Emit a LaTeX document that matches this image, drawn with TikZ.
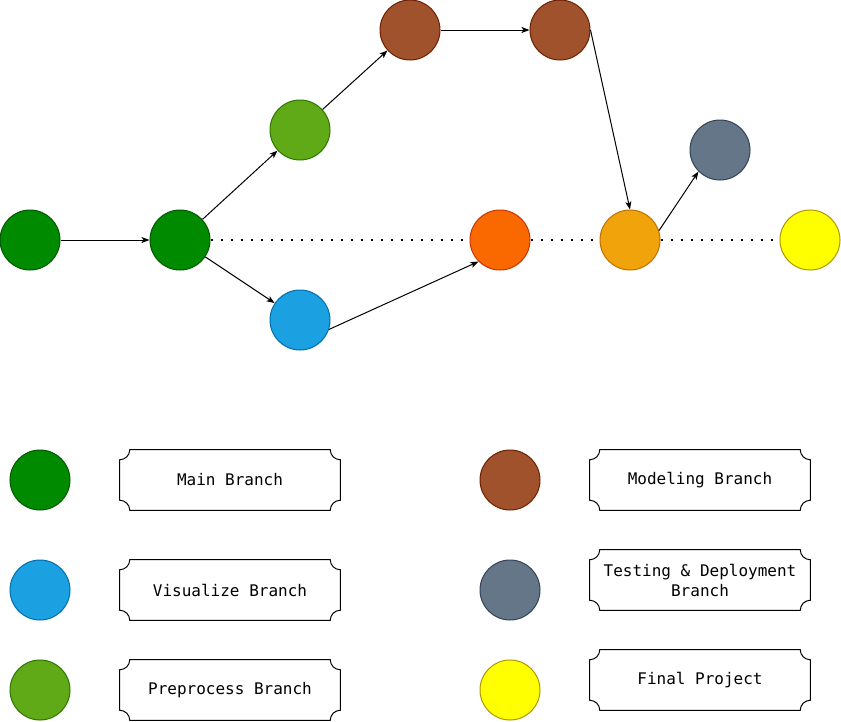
\documentclass[tikz,border=0pt]{standalone}
\usepackage{fontspec}
\setmonofont{DejaVu Sans Mono}
\usetikzlibrary{arrows.meta}
\definecolor{mainFill}{HTML}{008A00}\definecolor{mainLine}{HTML}{005700}
\definecolor{prepFill}{HTML}{60A917}\definecolor{prepLine}{HTML}{2D7600}
\definecolor{visFill}{HTML}{1BA1E2}\definecolor{visLine}{HTML}{006EAF}
\definecolor{modelFill}{HTML}{A0522D}\definecolor{modelLine}{HTML}{6D1F00}
\definecolor{mergeFill}{HTML}{FA6800}\definecolor{mergeLine}{HTML}{C73500}
\definecolor{testFill}{HTML}{F0A30A}\definecolor{testLine}{HTML}{BD7000}
\definecolor{deployFill}{HTML}{647687}\definecolor{deployLine}{HTML}{314354}
\definecolor{finalFill}{HTML}{FFFF00}\definecolor{finalLine}{HTML}{B09500}
\tikzset{
  commit/.style = {circle, inner sep=0pt, minimum size=45pt, line width=0.75pt},
  MainNode/.style = {commit, fill=mainFill, draw=mainLine},
  PrepNode/.style = {commit, fill=prepFill, draw=prepLine},
  VisNode/.style = {commit, fill=visFill, draw=visLine},
  ModelNode/.style = {commit, fill=modelFill, draw=modelLine},
  MergeNode/.style = {commit, fill=mergeFill, draw=mergeLine},
  TestNode/.style = {commit, fill=testFill, draw=testLine},
  DeployNode/.style = {commit, fill=deployFill, draw=deployLine},
  FinalNode/.style = {commit, fill=finalFill, draw=finalLine},
  branchlabel/.style = {align=center, inner sep=0pt, minimum width=165pt, minimum height=45pt,
    font=\ttfamily\fontsize{12}{15}\selectfont},
  flow/.style = {->, line width=0.75pt},
  track/.style = {line width=1.5pt, dash pattern=on 1.5pt off 6pt}
}

\begin{document}
\begin{tikzpicture}[x=0.75pt, y=-0.75pt, >={Stealth[length=6pt, width=4.5pt, inset=1.5pt]}]
  \useasboundingbox (0,0) rectangle (841,721);
  % history
  \node [MainNode] (mainA) at (30,240) {};
  \node [MainNode] (mainB) at (180,240) {};
  \node [PrepNode] (prep) at (300,130) {};
  \node [VisNode] (vis) at (300,320) {};
  \node [ModelNode] (modelA) at (410,30) {};
  \node [ModelNode] (modelB) at (560,30) {};
  \node [MergeNode] (merge) at (500,240) {};
  \node [TestNode] (test) at (630,240) {};
  \node [DeployNode] (deploy) at (720,150) {};
  \node [FinalNode] (final) at (810,240) {};

  \draw [track] (mainB.east) -- (merge.west);
  \draw [track] (merge.east) -- (test.west);
  \draw [track] (test.east) -- (final.west);

  \draw [flow] (mainA) -- (mainB);
  \draw [flow] (mainB) -- (prep);
  \draw [flow] (prep) -- (modelA);
  \draw [flow] (modelA) -- (modelB);
  \draw [flow] (modelB.east) -- (test.north);
  \draw [flow] (mainB) -- (vis);
  \draw [flow] (vis.-18) -- (merge.225);
  \draw [flow] (test.18) -- (deploy.225);

  % legend
  \node [MainNode] (keyMain) at (40,480) {};
  \node [VisNode] (keyVis) at (40,590) {};
  \node [PrepNode] (keyPrep) at (40,690) {};
  \node [ModelNode] (keyModel) at (510,480) {};
  \node [DeployNode] (keyDeploy) at (510,590) {};
  \node [FinalNode] (keyFinal) at (510,690) {};

  \node [branchlabel] (lblMain) at (230,480) {Main Branch};
  \node [branchlabel] (lblVis) at (230,590) {Visualize Branch};
  \node [branchlabel] (lblPrep) at (230,690) {Preprocess Branch};
  \node [branchlabel] (lblModel) at (700,480) {Modeling Branch};
  \node [branchlabel] (lblDeploy) at (700,580) {Testing \& Deployment\\Branch};
  \node [branchlabel] (lblFinal) at (700,680) {Final Project};

  \foreach \n in {lblMain,lblVis,lblPrep,lblModel,lblDeploy,lblFinal}
    \draw [line width=0.75pt] ([xshift=7.5pt]\n.north west) -- ([xshift=-7.5pt]\n.north east)
      arc [start angle=180, end angle=270, radius=7.5pt] -- ([yshift=7.5pt]\n.south east)
      arc [start angle=90, end angle=180, radius=7.5pt] -- ([xshift=7.5pt]\n.south west)
      arc [start angle=0, end angle=90, radius=7.5pt] -- ([yshift=-7.5pt]\n.north west)
      arc [start angle=270, end angle=360, radius=7.5pt] -- cycle;
\end{tikzpicture}
\end{document}
